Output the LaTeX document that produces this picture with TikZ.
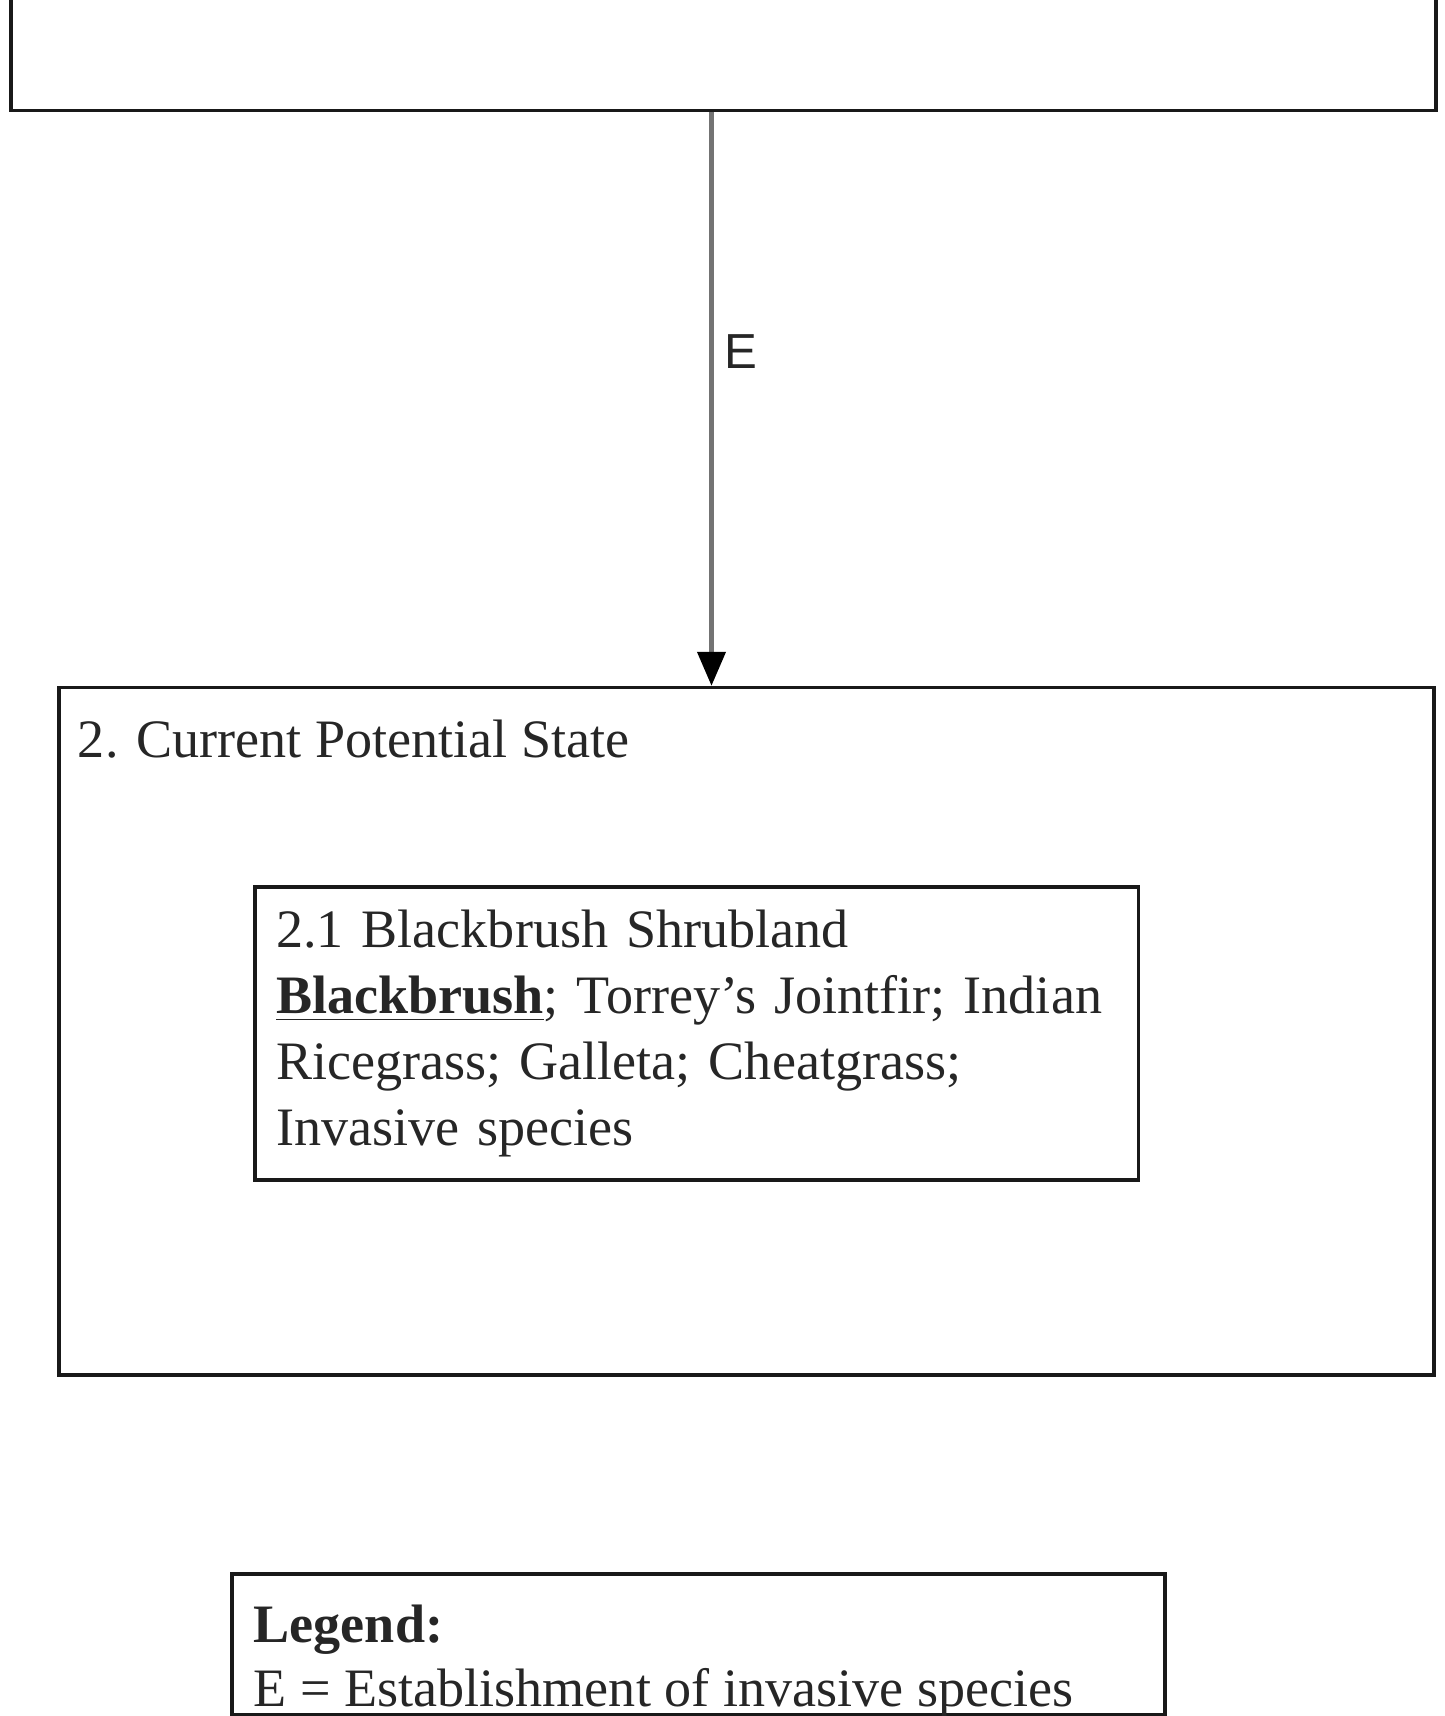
\documentclass[tikz,border=0pt]{standalone}
\usepackage{fontspec}
\setmainfont{Liberation Serif}
\newfontfamily\labelfont{Liberation Sans}
\usetikzlibrary{positioning,arrows.meta}

\begin{document}
\begin{tikzpicture}[
	statebox/.style={draw=black!90, line width=1pt, inner sep=0pt},
	phasebox/.style={draw=black!90, line width=1pt, inner xsep=0.21cm, inner ysep=0pt, text width=8.415cm, align=left, text=black!85, font=\fontsize{15.4}{18.7}\selectfont},
	boxtext/.style={inner sep=0pt, anchor=north west, align=left, text=black!85, font=\fontsize{15.4}{18.7}\selectfont},
	transition/.style={draw=black!55, line width=1.2pt, -{Triangle[length=0.34cm,width=0.28cm,color=black]}},
	]

	\useasboundingbox (0,0) rectangle (14.45,-17.16);
	\clip (0,0) rectangle (14.45,-17.16);

	\node[statebox, minimum width=14.25cm, minimum height=2cm, anchor=south west] (state1) at (0.09,-1.12) {};

	\node[statebox, minimum width=13.75cm, minimum height=6.875cm] (state2) at (7.465,-10.3125) {};
	\node[boxtext, below right=0.335cm and 0.20cm of state2.north west] (state2title) {2. Current Potential State};

	\node[phasebox, minimum width=8.835cm, minimum height=2.93cm] (shrub) at (6.9675,-10.335) {2.1 Blackbrush Shrubland\\
		\underline{\textbf{Blackbrush}}; Torrey’s Jointfir; Indian\\
		Ricegrass; Galleta; Cheatgrass;\\
		Invasive species};

	\coordinate (etop) at (7.115,-1.12);
	\draw[transition] (etop) -- (etop |- state2.north) node[pos=0.418, right, inner sep=0.11cm, text=black!85, font=\labelfont\fontsize{14}{16}\selectfont] (elabel) {E};

	\node[statebox, minimum width=9.33cm, minimum height=1.41cm, anchor=north west] (legend) at (2.30,-15.72) {};
	\node[boxtext, font=\fontsize{15.4}{18.3}\selectfont, below right=0.32cm and 0.23cm of legend.north west] (legendtext) {\textbf{Legend:}\\
		E = Establishment of invasive species};

\end{tikzpicture}
\end{document}
